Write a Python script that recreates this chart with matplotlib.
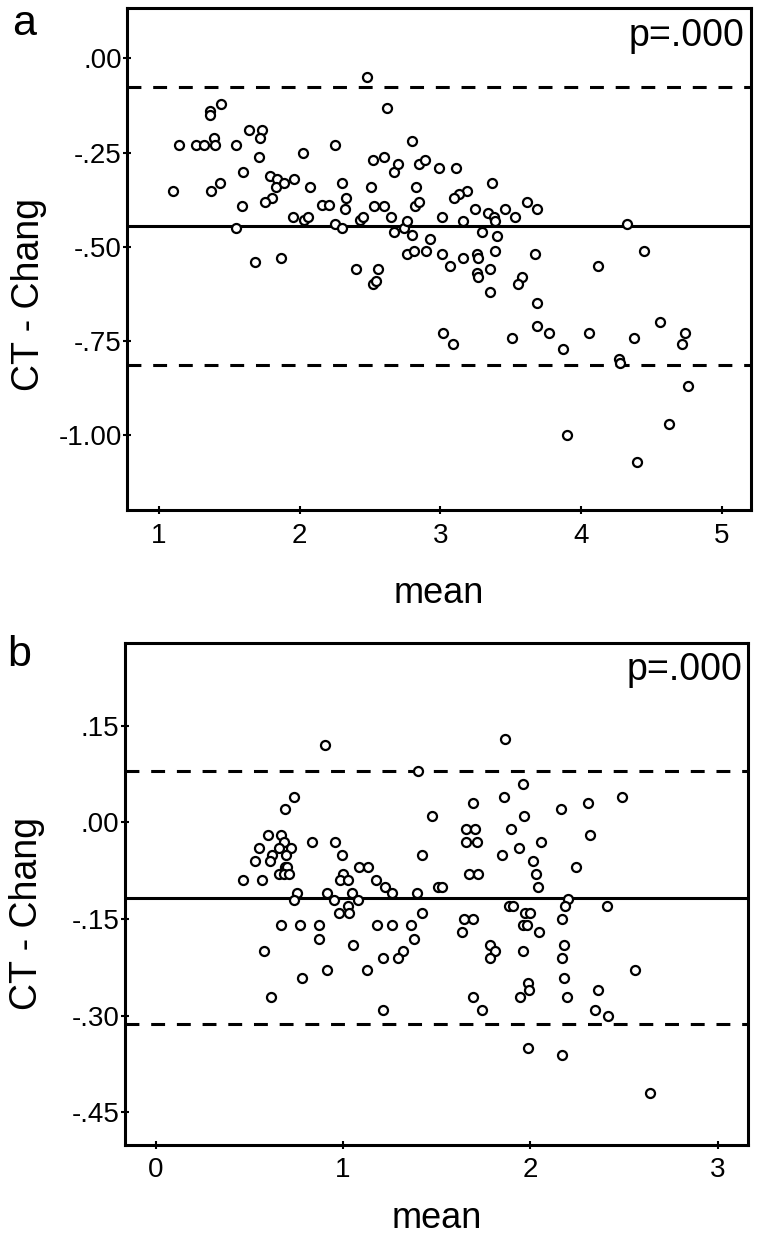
import matplotlib
matplotlib.use("Agg")
from matplotlib import pyplot as plt

# panel a: mean vs CT - Chang difference
a_mean = [1.10, 1.14, 1.26, 1.32, 1.36, 1.36, 1.44, 1.39, 1.40, 1.37, 1.43, 1.55, 1.55, 1.64, 1.73,
          1.72, 1.71, 1.60, 1.59, 1.68, 1.79, 1.84, 1.83, 1.89, 1.96, 1.80, 1.75, 1.87, 1.95, 2.03,
          2.06, 2.02, 2.07, 2.16, 2.21, 2.25, 2.25, 2.30, 2.30, 2.33, 2.32, 2.40, 2.43, 2.45, 2.48,
          2.51, 2.52, 2.52, 2.54, 2.56, 2.53, 2.60, 2.60, 2.62, 2.65, 2.67, 2.70, 2.67, 2.74, 2.76,
          2.80, 2.76, 2.81, 2.80, 2.83, 2.82, 2.85, 2.85, 2.89, 2.90, 2.93, 2.99, 3.01, 3.01, 3.07,
          3.11, 3.37, 3.19, 3.13, 3.10, 3.16, 3.25, 3.34, 3.38, 3.39, 3.46, 3.53, 3.62, 3.69, 3.30,
          3.40, 3.16, 3.26, 3.27, 3.39, 3.26, 3.27, 3.35, 3.35, 3.58, 3.55, 3.67, 3.69, 4.12, 4.33,
          4.45, 3.69, 3.77, 3.51, 3.02, 3.09, 3.87, 4.06, 4.38, 4.56, 4.74, 4.72, 4.27, 4.28, 4.76,
          4.63, 3.90, 4.40]
a_diff = [-0.351, -0.231, -0.231, -0.231, -0.139, -0.150, -0.120, -0.211, -0.231, -0.351, -0.331,
          -0.231, -0.450, -0.190, -0.190, -0.211, -0.261, -0.301, -0.391, -0.540, -0.311, -0.320,
          -0.341, -0.331, -0.320, -0.371, -0.381, -0.531, -0.420, -0.429, -0.420, -0.250, -0.341,
          -0.390, -0.390, -0.231, -0.440, -0.450, -0.331, -0.371, -0.401, -0.560, -0.429, -0.420,
          -0.050, -0.341, -0.270, -0.600, -0.590, -0.560, -0.391, -0.391, -0.261, -0.131, -0.420,
          -0.301, -0.281, -0.460, -0.450, -0.431, -0.470, -0.520, -0.511, -0.220, -0.341, -0.391,
          -0.381, -0.281, -0.270, -0.511, -0.480, -0.290, -0.420, -0.520, -0.550, -0.290, -0.331,
          -0.351, -0.360, -0.371, -0.431, -0.401, -0.411, -0.420, -0.431, -0.401, -0.420, -0.381,
          -0.401, -0.461, -0.471, -0.531, -0.520, -0.531, -0.511, -0.571, -0.580, -0.560, -0.620,
          -0.580, -0.600, -0.520, -0.650, -0.550, -0.440, -0.511, -0.710, -0.730, -0.741, -0.730,
          -0.759, -0.771, -0.730, -0.741, -0.701, -0.730, -0.759, -0.799, -0.809, -0.870, -0.971,
          -1.000, -1.071]
a_lines = [-0.077, -0.445, -0.813]

# panel b
b_mean = [0.902, 1.402, 0.738, 0.689, 1.475, 0.601, 0.671, 0.685, 0.834, 0.956, 0.552, 0.657,
          0.721, 0.619, 0.694, 0.996, 1.423, 0.530, 0.609, 0.689, 0.700, 1.084, 1.135, 0.660,
          0.685, 0.710, 1.002, 0.466, 0.566, 0.982, 1.027, 1.176, 1.223, 1.509, 1.530, 0.756,
          0.916, 1.046, 1.260, 1.395, 0.738, 0.950, 1.080, 1.027, 0.979, 1.030, 1.420,
          0.671, 0.770, 0.872, 1.180, 1.262, 1.361, 0.872, 1.381, 1.055, 0.580, 1.322, 1.295,
          1.215, 0.915, 1.127, 0.780, 0.616, 1.215,
          1.867, 1.961, 1.861, 2.491, 1.696, 2.308, 2.162, 1.966, 1.657, 1.707, 1.895, 2.320,
          1.657, 1.717, 2.057, 1.940, 1.847, 2.013, 2.246, 1.671, 1.721, 2.030, 2.041, 2.203,
          2.187, 2.408, 1.888, 1.909, 1.972, 1.998,
          1.646, 1.696, 2.168, 1.959, 1.981, 1.637, 2.046, 1.785, 1.812, 2.178, 1.785, 1.961,
          2.168, 2.557, 2.180, 1.986, 1.991, 1.945, 1.696, 2.196, 2.363, 1.744, 2.347, 2.413,
          1.986, 2.171, 2.641]
b_diff = [0.120, 0.080, 0.040, 0.020, 0.010, -0.020, -0.020, -0.030, -0.030, -0.030, -0.040, -0.040,
          -0.040, -0.050, -0.050, -0.050, -0.050, -0.060, -0.060, -0.070, -0.070, -0.070, -0.070,
          -0.080, -0.080, -0.080, -0.080, -0.090, -0.090, -0.090, -0.090, -0.090, -0.100, -0.100,
          -0.100, -0.110, -0.110, -0.110, -0.110, -0.110, -0.121, -0.121, -0.121, -0.130, -0.140,
          -0.140, -0.140,
          -0.160, -0.160, -0.160, -0.160, -0.160, -0.160, -0.181, -0.181, -0.190, -0.200, -0.200,
          -0.211, -0.211, -0.230, -0.230, -0.241, -0.271, -0.291,
          0.130, 0.060, 0.040, 0.040, 0.030, 0.030, 0.020, 0.010, -0.010, -0.010, -0.010, -0.020,
          -0.030, -0.030, -0.030, -0.040, -0.050, -0.060, -0.070, -0.080, -0.080, -0.080, -0.100,
          -0.119, -0.130, -0.130, -0.130, -0.130, -0.140, -0.140,
          -0.150, -0.150, -0.150, -0.160, -0.160, -0.171, -0.171, -0.190, -0.200, -0.190, -0.211,
          -0.200, -0.211, -0.230, -0.241, -0.250, -0.260, -0.271, -0.271, -0.271, -0.260, -0.291,
          -0.291, -0.301, -0.351, -0.361, -0.420]
b_lines = [0.080, -0.117, -0.313]

a_yticks = [0.0, -0.25, -0.5, -0.75, -1.0]
a_yticklabels = [".00", "-.25", "-.50", "-.75", "-1.00"]
a_xticks = [1, 2, 3, 4, 5]
b_yticks = [0.15, 0.0, -0.15, -0.30, -0.45]
b_yticklabels = [".15", ".00", "-.15", "-.30", "-.45"]
b_xticks = [0, 1, 2, 3]

plt.rcParams["font.family"] = ["Liberation Sans", "DejaVu Sans"]
plt.rcParams["lines.scale_dashes"] = False


def draw_panel(ax, xs, ys, lines, xlim, ylim, xticks, yticks, yticklabels, xlab_y, ylab_y):
    ax.set_xlim(*xlim)
    ax.set_ylim(*ylim)
    for i, val in enumerate(lines):
        if i == 1:
            ax.axhline(val, color="black", lw=2.2, zorder=2)
        else:
            ax.axhline(val, color="black", lw=2.2, dashes=(10, 8.5), zorder=2)
    ax.plot(xs, ys, "o", ms=6.5, mfc="white", mec="black", mew=1.6, zorder=3, clip_on=False)
    ax.set_xticks(xticks)
    ax.set_xticklabels([str(t) for t in xticks], fontsize=20)
    ax.set_yticks(yticks)
    ax.set_yticklabels(yticklabels, fontsize=20)
    ax.tick_params(direction="inout", length=6, width=1.5)
    ax.tick_params(axis="x", pad=6)
    ax.tick_params(axis="y", pad=1)
    for sp in ax.spines.values():
        sp.set_linewidth(2.2)
    ax.set_xlabel("mean", fontsize=26)
    ax.set_ylabel("CT - Chang", fontsize=27)
    ax.xaxis.set_label_coords(0.5, xlab_y)
    ax.yaxis.set_label_coords(-0.128, ylab_y)
    ax.text(0.99, 0.925, "p=.000", transform=ax.transAxes, ha="right", va="baseline", fontsize=27)


if __name__ == "__main__":
    fig = plt.figure(figsize=(7.61, 12.41), dpi=100)
    ax_a = fig.add_axes([0.1673, 0.589, 0.8196, 0.4043])
    ax_b = fig.add_axes([0.1643, 0.0774, 0.8190, 0.4047])

    draw_panel(ax_a, a_mean, a_diff, a_lines, (0.774, 5.21), (-1.199, 0.133),
               a_xticks, a_yticks, a_yticklabels, -0.131, 0.43)
    draw_panel(ax_b, b_mean, b_diff, b_lines, (-0.164, 3.164), (-0.501, 0.279),
               b_xticks, b_yticks, b_yticklabels, -0.111, 0.46)

    fig.text(0.016, 0.972, "a", fontsize=31)
    fig.text(0.009, 0.463, "b", fontsize=31)

    fig.savefig("out.png", dpi=100)
